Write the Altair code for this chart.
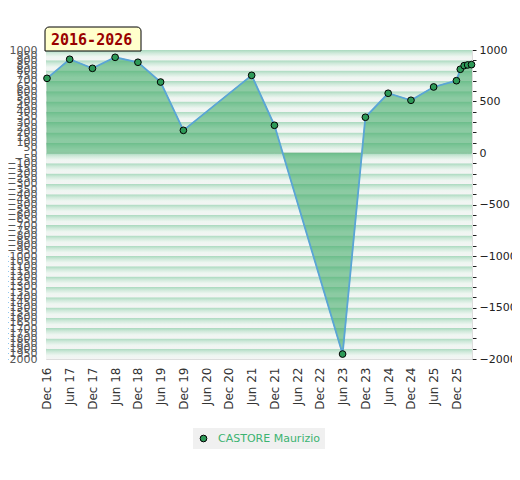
import altair as alt
import pandas as pd

# ---- data ----
dates = [
    "2016-12-01", "2017-06-01", "2017-12-01", "2018-06-01", "2018-12-01",
    "2019-06-01", "2019-12-01", "2021-06-01", "2021-12-01", "2023-06-01",
    "2023-12-01", "2024-06-01", "2024-12-01", "2025-06-01", "2025-12-01",
    "2026-01-01", "2026-02-01", "2026-03-01", "2026-04-01",
]
ratings = [725, 910, 822, 929, 881, 689, 220, 754, 269, -1952,
           347, 580, 512, 641, 702, 813, 848, 855, 858]
player = "CASTORE Maurizio"

tick_dates = [
    (2016, 12), (2017, 6), (2017, 12), (2018, 6), (2018, 12), (2019, 6),
    (2019, 12), (2020, 6), (2020, 12), (2021, 6), (2021, 12), (2022, 6),
    (2022, 12), (2023, 6), (2023, 12), (2024, 6), (2024, 12), (2025, 6),
    (2025, 12),
]
left_ticks = list(range(-2000, 1001, 50))
right_ticks = list(range(-2000, 1001, 100))
band_lo = list(range(-2000, 1000, 100))

df = pd.DataFrame({
    "date": [d + "T00:00:00" for d in dates],
    "rating": ratings,
    "player": [player] * len(dates),
})
bands = pd.DataFrame({"lo": band_lo, "hi": [b + 100 for b in band_lo]})
label_df = pd.DataFrame({"label": ["2016-2026"]})

yscale = alt.Scale(domain=[-2000, 1000], nice=False, zero=False)

xenc = alt.X(
    "date:T",
    scale=alt.Scale(domain=[alt.DateTime(year=2016, month=11, date=23),
                            alt.DateTime(year=2026, month=4, date=5)], nice=False),
    axis=alt.Axis(
        values=[alt.DateTime(year=y, month=m, date=1) for y, m in tick_dates],
        format="%b %y", labelAngle=270, labelAlign="right", labelBaseline="middle",
        labelFontSize=12, labelColor="#333333", labelFont="DejaVu Sans",
        ticks=False, domain=True, domainColor="#dddddd", grid=False,
        labelPadding=8, title=None, labelOverlap=False, labelFlush=False,
    ),
)

band_grad = {
    "gradient": "linear", "x1": 0, "y1": 0, "x2": 0, "y2": 1,
    "stops": [
        {"offset": 0.0, "color": "#a9d9be"},
        {"offset": 0.3, "color": "#cfe9da"},
        {"offset": 0.65, "color": "#eef6f1"},
        {"offset": 1.0, "color": "#f4f4f4"},
    ],
}

band_layer = alt.Chart(bands).mark_rect(color=band_grad).encode(
    y=alt.Y("hi:Q", scale=yscale, axis=alt.Axis(
        orient="left", values=left_ticks, format="d", ticks=False,
        domain=True, domainColor="#dddddd", grid=False, title=None,
        labelOverlap=False, labelFontSize=11, labelColor="#555555",
        labelFont="DejaVu Sans", labelPadding=9,
    )),
    y2="lo:Q",
)

area_layer = alt.Chart(df).mark_area(
    color="#3aa862", opacity=0.55, stroke="#3b9b5c", strokeWidth=1,
    strokeOpacity=1,
).encode(
    x=xenc,
    y=alt.Y("rating:Q", scale=yscale, axis=None),
    y2=alt.datum(0),
)

line_layer = alt.Chart(df).mark_line(color="#5aa5d6", strokeWidth=1.8).encode(
    x=xenc,
    y=alt.Y("rating:Q", scale=yscale, axis=None),
)

point_layer = alt.Chart(df).mark_point(
    filled=True, size=45, stroke="black", strokeWidth=1, opacity=1,
    shape="circle",
).encode(
    x=xenc,
    y=alt.Y("rating:Q", scale=yscale, axis=alt.Axis(
        orient="right", values=right_ticks, format="d",
        labelExpr="datum.value % 500 === 0 ? datum.label : ''",
        ticks=True, tickSize=4, tickColor="#222222", domain=True,
        domainColor="#dddddd", grid=False, title=None, labelOverlap=False,
        labelFontSize=11, labelColor="#222222", labelFont="DejaVu Sans",
        labelPadding=3,
    )),
    color=alt.Color("player:N", scale=alt.Scale(range=["#2e9a58"]),
                    legend=alt.Legend(
                        title=None, orient="none", legendX=147, legendY=378,
                        fillColor="#f0f0f0", padding=5, symbolType="circle",
                        symbolSize=45, symbolStrokeColor="black",
                        symbolStrokeWidth=1, symbolFillColor="#2e9a58",
                        labelColor="#3cb371", labelFontSize=11,
                        labelFont="DejaVu Sans", labelOffset=9,
                    )),
)

box_layer = alt.Chart(label_df).mark_rect(
    fill="#ffffcc", stroke="black", strokeWidth=1,
    cornerRadiusTopLeft=4, cornerRadiusTopRight=4,
).encode(
    x=alt.value(-1), x2=alt.value(95), y=alt.value(-23), y2=alt.value(1),
)

text_layer = alt.Chart(label_df).mark_text(
    font="DejaVu Sans Mono", fontSize=15, fontWeight="bold", color="#990000",
    align="left", baseline="alphabetic",
).encode(
    text="label:N", x=alt.value(5), y=alt.value(-5),
)

chart = alt.layer(
    band_layer, area_layer, line_layer, point_layer, box_layer, text_layer
).resolve_scale(y="shared").resolve_axis(y="independent").properties(
    width=426, height=309,
    title=alt.TitleParams("WOF ratinglist", font="DejaVu Sans Mono",
                          fontSize=11.5, fontWeight="bold", color="#444444",
                          anchor="middle", offset=30),
    autosize=alt.AutoSizeParams(type="none"),
    padding={"left": 38, "top": 42, "right": 40, "bottom": 100},
).configure_view(stroke=None)

chart.save("out.html", embed_options={"renderer": "svg", "actions": False})
